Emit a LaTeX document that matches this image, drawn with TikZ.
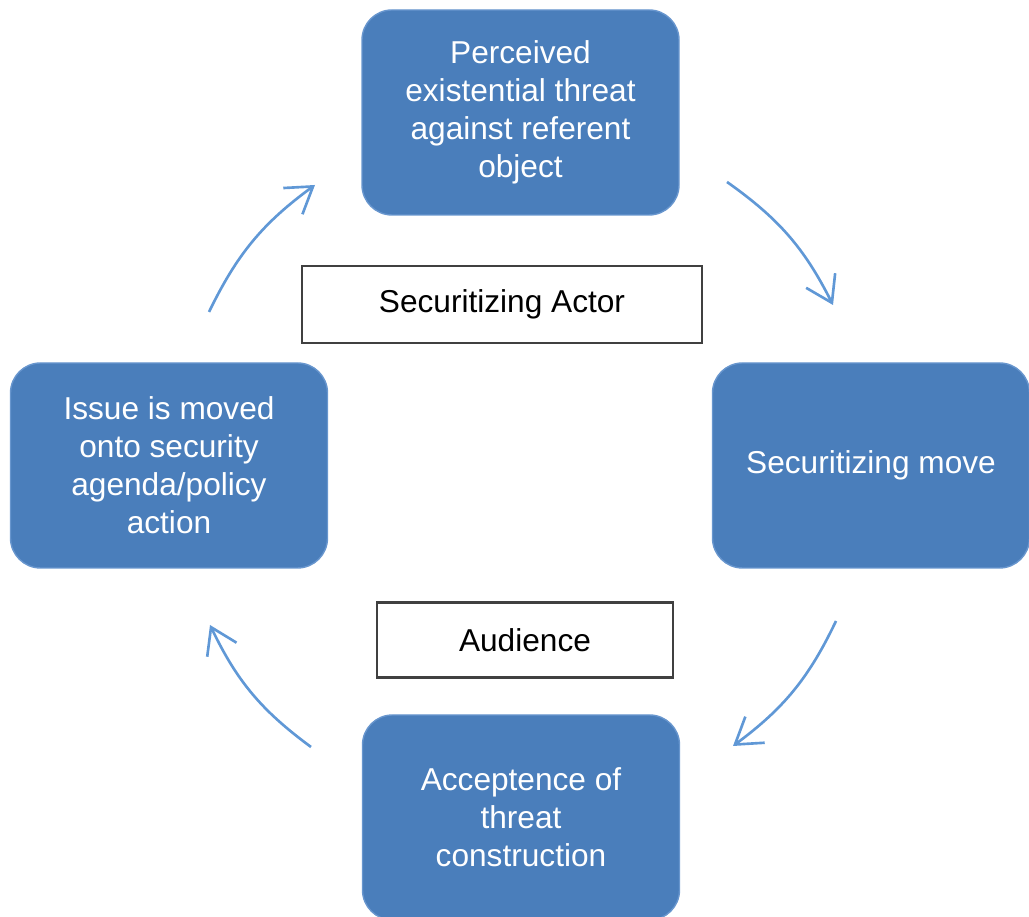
\documentclass[tikz,border=0pt]{standalone}
\usepackage{fontspec}
\setmainfont{Liberation Sans}
\usepackage{xcolor}
\usetikzlibrary{positioning,arrows.meta}
\definecolor{secblue}{RGB}{74,126,187}
\definecolor{secedge}{RGB}{104,150,206}
\definecolor{secarrow}{RGB}{96,152,214}
\begin{document}
\begin{tikzpicture}[sec block/.style={draw=secedge, line width=0.8pt, fill=secblue, rounded corners=0.6cm, minimum width=6.34cm, minimum height=4.1cm, align=center, text=white, font=\fontsize{18}{21.6}\selectfont}, sec label/.style={draw=black!75, line width=1.2pt, rectangle, align=center, font=\fontsize{18}{21.6}\selectfont}, sec arrow/.style={draw=secarrow, line width=1.5pt, -{Straight Barb[length=5mm,width=6.5mm]}, bend left=14}]
    \clip (0,0) rectangle (20.58,18.34);
    \node[sec block] (threat) at (10.41,16.09) {Perceived \\ existential threat \\ against referent \\ object};
    \node[sec block] (move) at (17.42,9.03) {Securitizing move};
    \node[sec block] (issue) at (3.38,9.03) {Issue is moved \\ onto security \\ agenda/policy \\ action};
    \node[sec block] (accept) at (10.42,1.99) {Acceptence of \\ threat \\ construction};
    \node[sec label, minimum width=8cm, minimum height=1.54cm] (actor) at (10.04,12.25) {Securitizing Actor};
    \node[sec label, minimum width=5.92cm, minimum height=1.5cm] (aud) at (10.5,5.54) {Audience};

    \coordinate (a1) at (14.54,14.70);
    \coordinate (b1) at (16.66,12.24);
    \coordinate (a2) at (16.72,5.92);
    \coordinate (b2) at (14.66,3.42);
    \coordinate (a3) at (6.22,3.40);
    \coordinate (b3) at (4.20,5.84);
    \coordinate (a4) at (4.18,12.10);
    \coordinate (b4) at (6.30,14.64);

    \draw[sec arrow] (a1) to (b1);
    \draw[sec arrow] (a2) to (b2);
    \draw[sec arrow] (a3) to (b3);
    \draw[sec arrow] (a4) to (b4);

\end{tikzpicture}
\end{document}
